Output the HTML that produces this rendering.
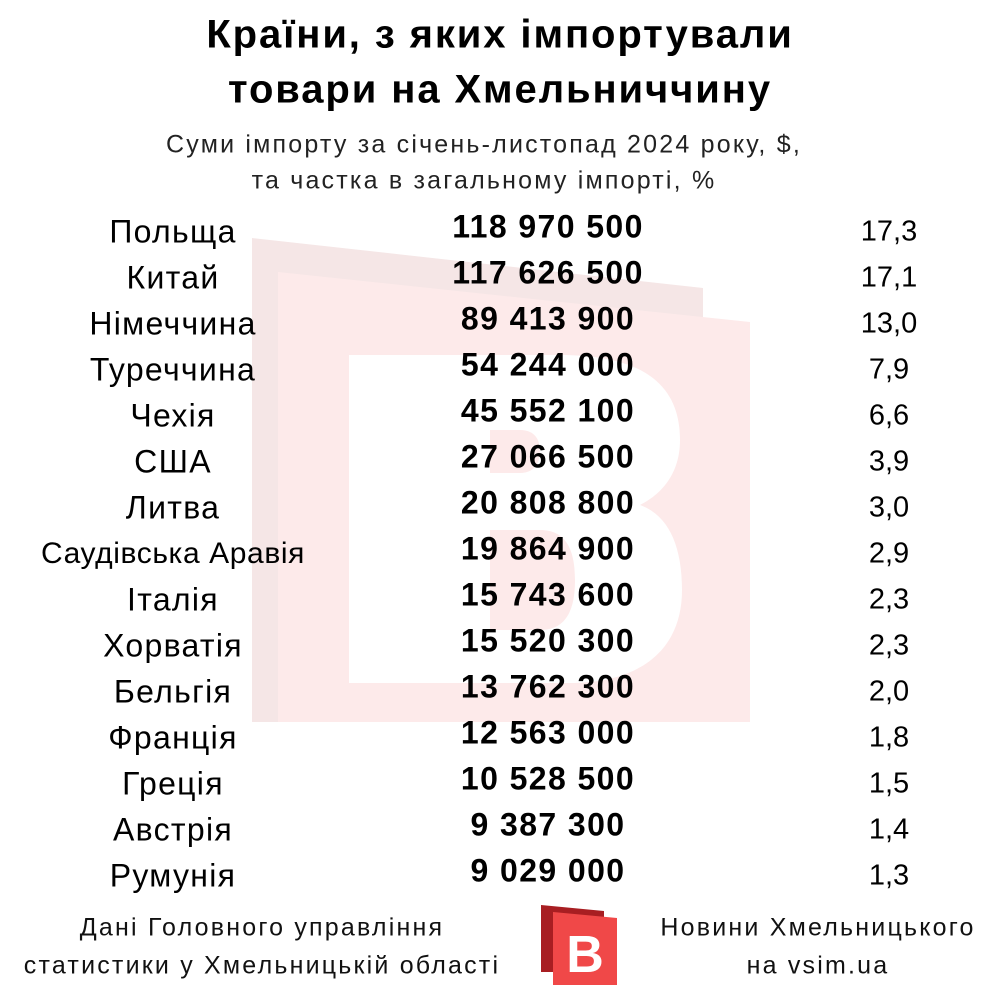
<!DOCTYPE html>
<html><head><meta charset="utf-8"><style>
body{margin:0;width:1000px;height:1000px;background:#fff;position:relative;overflow:hidden;font-family:"Liberation Sans",sans-serif;color:#000}
.t{position:absolute;white-space:nowrap;transform:translate(-50%,-50%)}
.h{font-weight:bold;font-size:40px;letter-spacing:1.9px}
.s{font-size:25px;color:#222;letter-spacing:2.2px}
.c{font-size:32px;letter-spacing:1.3px}
.n{font-size:32px;font-weight:bold;letter-spacing:1.4px}
.p{font-size:29px}
.f{font-size:25px;color:#111;letter-spacing:2.2px}
</style></head><body>
<svg width="1000" height="1000" style="position:absolute;left:0;top:0">
<polygon points="252,238 703,288 703,722 252,722" fill="#f5e6e6"/>
<polygon points="278,272 750,322 750,722 278,722" fill="#fdeaea"/>
<path d="M349,355 H560 C650,355 680,390 680,440 C680,475 660,495 640,505 C668,515 682,545 682,590 C682,650 640,683 570,683 H349 Z M490,430 V473 H520 C535,473 540,462 540,451 C540,440 535,430 520,430 Z M490,530 V630 H540 C565,630 575,612 575,580 C575,548 565,530 540,530 Z" fill="#fff" fill-rule="evenodd"/>
<polygon points="541,905 604,911 604,972 541,972" fill="#a81e22"/>
<polygon points="553,912 617,918 617,985 553,985" fill="#f04848"/>
<text x="585" y="972" font-family="Liberation Sans" font-weight="bold" font-size="52" fill="#fff" text-anchor="middle">B</text>
</svg>
<div class="t h" style="left:500px;top:35px">Країни, з яких імпортували</div>
<div class="t h" style="left:500px;top:90px">товари на Хмельниччину</div>
<div class="t s" style="left:484px;top:145px">Суми імпорту за січень-листопад 2024 року, $,</div>
<div class="t s" style="left:484px;top:181px">та частка в загальному імпорті, %</div>

<div class="t c" style="left:173px;top:232px">Польща</div><div class="t n" style="left:548px;top:227px">118 970 500</div><div class="t p" style="left:889px;top:232px">17,3</div>
<div class="t c" style="left:173px;top:278px">Китай</div><div class="t n" style="left:548px;top:273px">117 626 500</div><div class="t p" style="left:889px;top:278px">17,1</div>
<div class="t c" style="left:173px;top:324px">Німеччина</div><div class="t n" style="left:548px;top:319px">89 413 900</div><div class="t p" style="left:889px;top:324px">13,0</div>
<div class="t c" style="left:173px;top:370px">Туреччина</div><div class="t n" style="left:548px;top:365px">54 244 000</div><div class="t p" style="left:889px;top:370px">7,9</div>
<div class="t c" style="left:173px;top:416px">Чехія</div><div class="t n" style="left:548px;top:411px">45 552 100</div><div class="t p" style="left:889px;top:416px">6,6</div>
<div class="t c" style="left:173px;top:462px">США</div><div class="t n" style="left:548px;top:457px">27 066 500</div><div class="t p" style="left:889px;top:462px">3,9</div>
<div class="t c" style="left:173px;top:508px">Литва</div><div class="t n" style="left:548px;top:503px">20 808 800</div><div class="t p" style="left:889px;top:508px">3,0</div>
<div class="t c" style="left:173px;top:554px;font-size:30px;letter-spacing:0.6px">Саудівська Аравія</div><div class="t n" style="left:548px;top:549px">19 864 900</div><div class="t p" style="left:889px;top:554px">2,9</div>
<div class="t c" style="left:173px;top:600px">Італія</div><div class="t n" style="left:548px;top:595px">15 743 600</div><div class="t p" style="left:889px;top:600px">2,3</div>
<div class="t c" style="left:173px;top:646px">Хорватія</div><div class="t n" style="left:548px;top:641px">15 520 300</div><div class="t p" style="left:889px;top:646px">2,3</div>
<div class="t c" style="left:173px;top:692px">Бельгія</div><div class="t n" style="left:548px;top:687px">13 762 300</div><div class="t p" style="left:889px;top:692px">2,0</div>
<div class="t c" style="left:173px;top:738px">Франція</div><div class="t n" style="left:548px;top:733px">12 563 000</div><div class="t p" style="left:889px;top:738px">1,8</div>
<div class="t c" style="left:173px;top:784px">Греція</div><div class="t n" style="left:548px;top:779px">10 528 500</div><div class="t p" style="left:889px;top:784px">1,5</div>
<div class="t c" style="left:173px;top:830px">Австрія</div><div class="t n" style="left:548px;top:825px">9 387 300</div><div class="t p" style="left:889px;top:830px">1,4</div>
<div class="t c" style="left:173px;top:876px">Румунія</div><div class="t n" style="left:548px;top:871px">9 029 000</div><div class="t p" style="left:889px;top:876px">1,3</div>

<div class="t f" style="left:262px;top:928px">Дані Головного управління</div>
<div class="t f" style="left:262px;top:966px">статистики у Хмельницькій області</div>
<div class="t f" style="left:818px;top:928px">Новини Хмельницького</div>
<div class="t f" style="left:818px;top:966px">на vsim.ua</div>
</body></html>
